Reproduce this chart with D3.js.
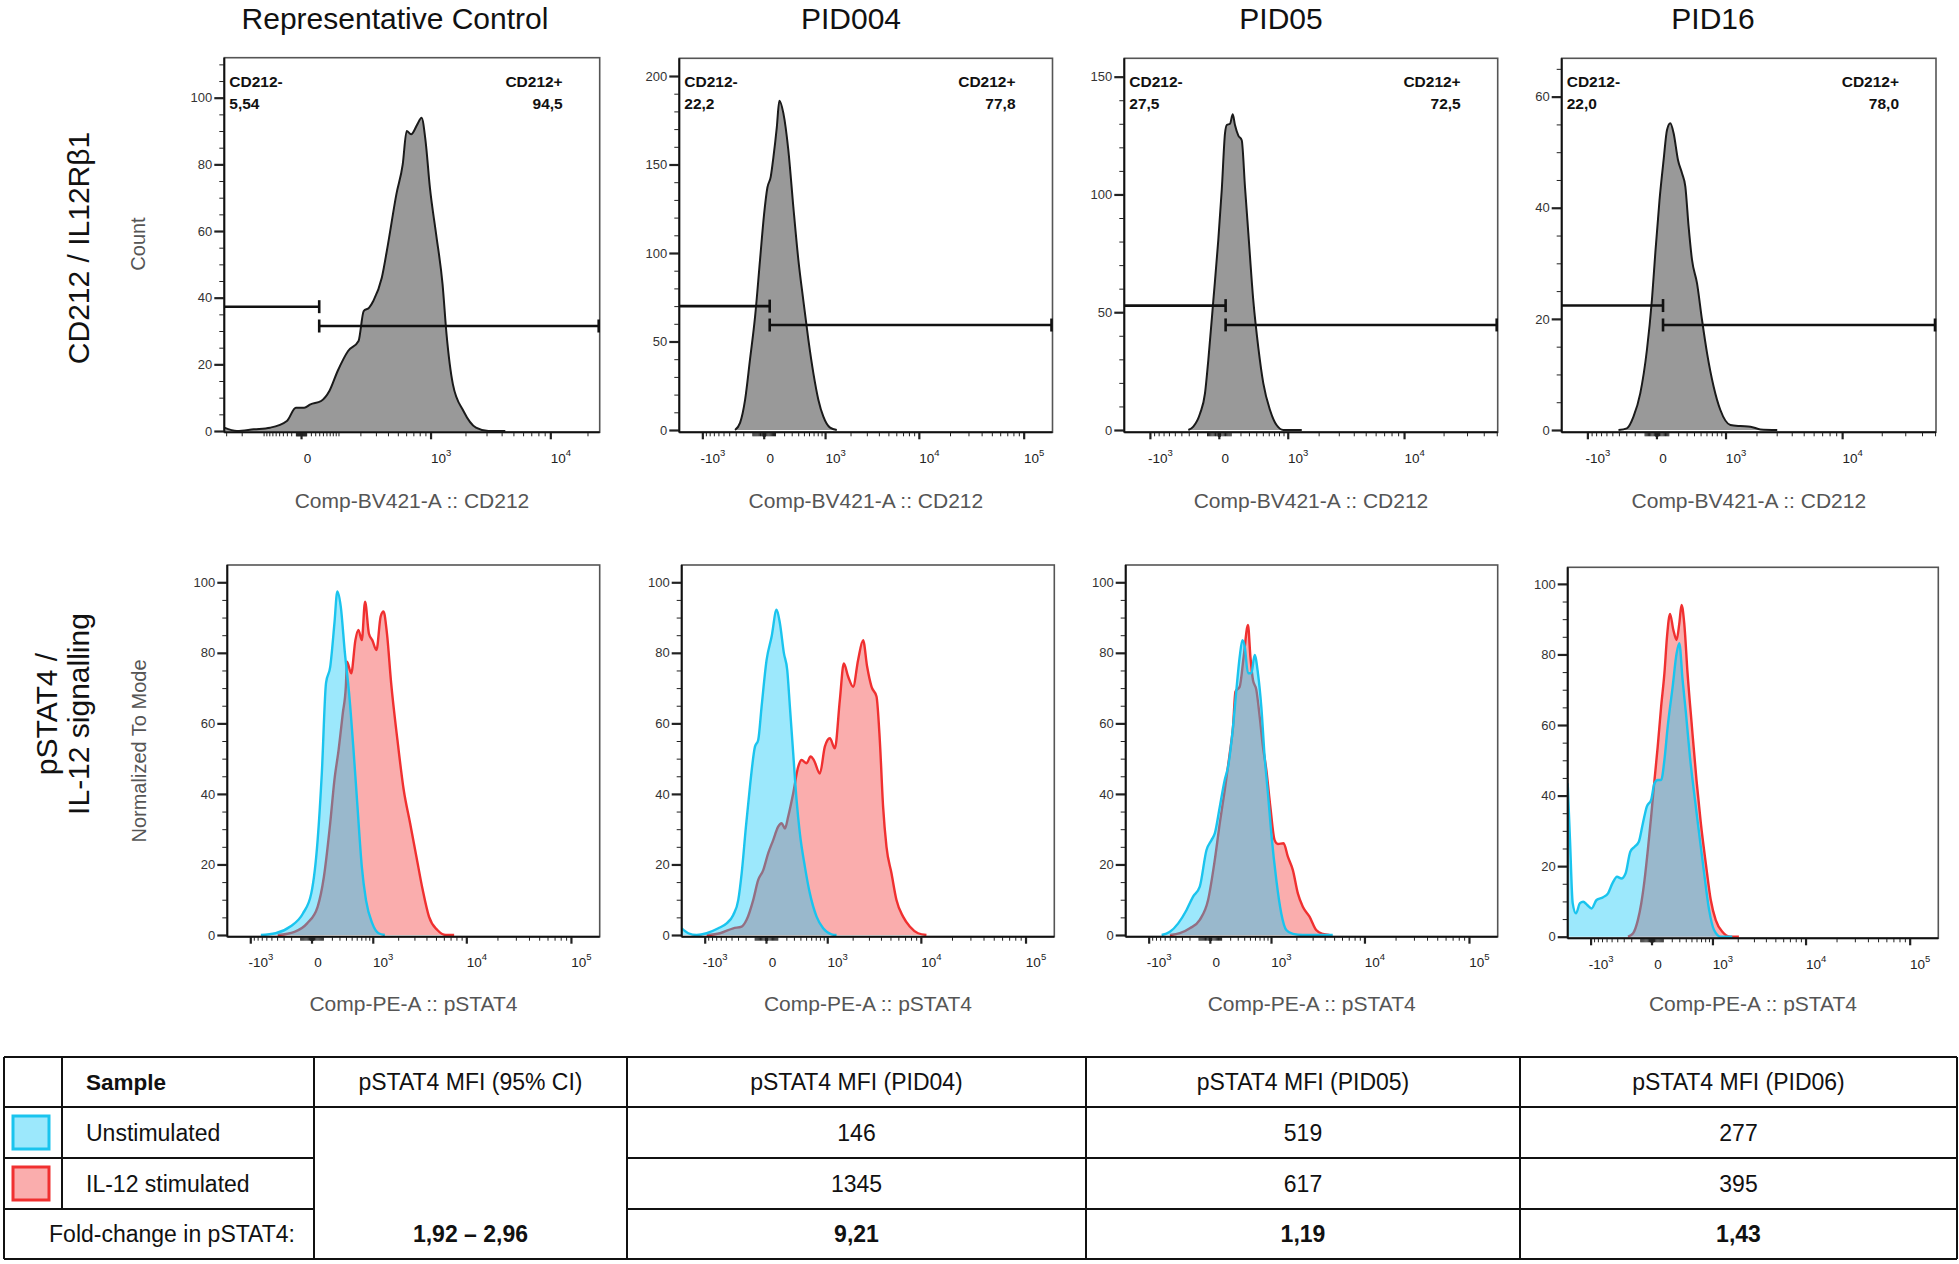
<!DOCTYPE html>
<html>
<head>
<meta charset="utf-8">
<script src="https://cdn.jsdelivr.net/npm/d3@7"></script>
<style>
html,body{margin:0;padding:0;background:#fff;}
svg{display:block;}
</style>
</head>
<body>
<svg id="fig" width="1959" height="1264"></svg>
<script>
// ================= DATA =================
const panelTitles = ["Representative Control", "PID004", "PID05", "PID16"];
const rowLabelTop = "CD212 / IL12R\u03b21";
const rowLabelBottom = ["pSTAT4 /", "IL-12 signalling"];
const topAxisTitle = "Comp-BV421-A :: CD212";
const bottomAxisTitle = "Comp-PE-A :: pSTAT4";
const topYTitle = "Count";
const bottomYTitle = "Normalized To Mode";

const gateNegLabel = "CD212-";
const gatePosLabel = "CD212+";
const gateNegPct = ["5,54", "22,2", "27,5", "22,0"];
const gatePosPct = ["94,5", "77,8", "72,5", "78,0"];
const gateThreshold = [40, 50, 55, 53];
const gateNegLevel = [37.3, 70, 52.8, 22.4];
const gatePosLevel = [31.5, 59.3, 44.6, 18.9];

const countTicks = [[0,20,40,60,80,100],[0,50,100,150,200],[0,50,100,150],[0,20,40,60]];
const countMinorStep = [5,10,10,5];
const modeTicks = [0,20,40,60,80,100];
const modeMinorStep = 5;
const logicleMajorTicks = [-1000, 0, 1000, 10000, 100000];

// --- CD212 histograms (Count) ---
const ctrlCD212_x = [-314,-228,-140,-77,-30,-10,6,19,45,69,97,139,190,219,253,281,346,400,484,557,607,667,761,831,903,987,1120,1274,1379,1564,1922,2450,3110,4290];
const ctrlCD212_count = [1,0,0.5,1,3,7,7,8,9,12,18,24,27,36,37,39,46,56,71,80,90,89,92,94,87,73,59,44,29,14,6,1,0,0];

const pid004CD212_x = [-310,-241,-179,-124,-74,-30,3,30,59,84,118,145,191,254,324,403,490,587,696,817,951,1156,1393];
const pid004CD212_count = [0,4,17,40,64,96,122,137,143,154,171,186,179,158,126,96,73,51,32,17,7.5,1.3,0];

const pid05CD212_x = [-305,-244,-169,-119,-88,-44,-4,23,50,65,94,120,142,177,214,252,293,358,430,508,623,753,895,1390];
const pid05CD212_count = [0,1.4,7,15.6,29.7,55,80.7,102,126,129.5,130,134,129.5,125,123,103,83.5,55,35,19.8,8.5,2,0,0];

const pid16CD212_x = [-406,-293,-214,-142,-79,-36,-9,24,58,88,119,152,198,244,284,326,372,445,524,611,736,879,1125,1417,1762,2171,3031];
const pid16CD212_count = [0,0.3,2.4,6.6,14.4,23.4,31.8,41.4,48.6,54,55.2,53.4,48.6,46.2,43.8,36.6,30.6,26.4,19.8,13.8,7.8,3.6,0.9,0.7,0.6,0.1,0];

// --- pSTAT4 histograms (Normalized To Mode) ---
const ctrlUnstim_x = [-721,-425,-211,-74,-2,51,90,133,180,232,270,319,383,454,531,616,712,814,986,1182,1408];
const ctrlUnstim_y = [0,0.5,2.4,6.1,11.8,26.9,45.8,71.4,76,88.4,97.4,93.1,79.9,68.5,53.4,36.4,19.4,9.9,3.3,0.5,0];
const ctrlIL12_x = [-390,-161,-36,51,111,180,232,288,350,398,418,492,573,636,712,791,890,986,1114,1254,1359,1490,1667,1963,2303,2699,3147,3660,4247,5167,6270,7594];
const ctrlIL12_y = [0,0.9,3.3,8,16.5,31.7,44,52.5,62.9,70.4,77.5,74.2,83.6,86.5,83.6,94.5,85.5,83.6,80.8,90.3,91.7,85.5,71.4,55.3,41.1,31.7,22.2,12.8,5.2,1.4,0,0];

const pid004Unstim_x = [-1880,-1581,-1258,-943,-653,-485,-372,-297,-250,-196,-150,-97,-66,-36,5,47,93,127,171,211,245,290,339,391,477,573,719,885,1133,1304];
const pid004Unstim_y = [1.9,0.5,0,0.5,1.9,3.3,5.7,9.9,17.5,30.7,42,53.4,55.3,64.7,78,84.6,92.2,88.4,79.9,75.1,64.7,51.5,38.3,28.8,19.4,11.8,5.2,1.9,0.2,0];
const pid004IL12_x = [-943,-616,-372,-250,-188,-115,-66,-22,18,61,109,145,183,223,290,364,419,509,587,657,799,931,1079,1244,1427,1589,1779,2024,2297,2601,2870,3192,3599,3892,4208,4557,5120,5746,6685,7787,9392,11336];
const pid004IL12_y = [0,0.5,1.9,2.4,4.3,9.9,15.6,18.4,23.2,26.9,30.7,31.7,30.2,33.6,40.2,47.7,49.6,48.7,50.6,49.6,45.8,53.4,55.8,52.9,66.6,77,73.3,70.4,78,83.6,76.1,70.4,67.6,55.3,36.4,25,17.5,9.9,5.2,2.4,0.5,0];

const pid05Unstim_x = [-666,-497,-356,-237,-158,-88,-27,13,41,87,138,175,236,281,329,370,408,465,528,593,664,742,824,912,1009,1166,1340,1535,1827,2355,4843];
const pid05Unstim_y = [0,0.9,3.3,7.1,10.9,13.7,24.1,26.9,28.8,36.4,44,47.7,59.1,69.5,78.9,83.6,81.8,74.2,74.2,79.4,74.2,64.7,50.6,40.2,28.8,15.6,6.1,1.4,0.3,0,0];
const pid05IL12_x = [-497,-330,-196,-88,-14,41,87,138,195,236,268,329,391,465,509,559,629,703,781,869,980,1111,1220,1427,1602,1827,2077,2355,2780,3270,3828,4483];
const pid05IL12_y = [0,0.5,1.9,4.3,9.9,21.3,31.7,41.1,51.5,59.1,69,70.4,78.9,87.9,78.9,72.3,69.5,61.9,53.4,46.8,36.4,26.9,25.8,26,22.2,18.4,11.8,8,5.2,1.4,0.3,0];

const pid16Unstim_x = [-1880,-1770,-1649,-1511,-1355,-1237,-1104,-971,-835,-675,-569,-485,-404,-335,-273,-212,-161,-115,-75,-39,-3,24,52,84,117,152,211,262,300,349,403,472,553,657,774,904,1048,1268,1734];
const pid16Unstim_y = [43.5,27.4,9.5,6.6,9.5,9.9,9,8,10.4,11.2,12.3,15.1,17,16.5,18,24.1,25.5,26.9,32.1,36.9,38.8,43.5,44.4,44.4,50.1,59.5,70.9,80.3,83.2,72.8,63.3,51,40.6,29.3,18,7.6,1.9,0,0];
const pid16IL12_x = [-242,-180,-125,-90,-59,-30,-3,24,52,84,117,145,179,219,262,300,333,375,430,509,600,696,816,951,1101,1326,1662,2061];
const pid16IL12_y = [0,0.9,4.7,9.5,16.1,24.6,34,44.4,53.9,65.2,74.7,85.1,91.5,87,84.1,88.8,94,88.8,74.7,59.5,44.4,32.1,20.8,10.4,4.7,1.4,0,0];

// --- table ---
const tableHeader = ["Sample", "pSTAT4 MFI (95% CI)", "pSTAT4 MFI (PID04)", "pSTAT4 MFI (PID05)", "pSTAT4 MFI (PID06)"];
const sampleNames = ["Unstimulated", "IL-12 stimulated"];
const mfiUnstimulated = ["", "146", "519", "277"];
const mfiStimulated = ["", "1345", "617", "395"];
const foldChangeLabel = "Fold-change in pSTAT4:";
const foldChange = ["1,92 \u2013 2,96", "9,21", "1,19", "1,43"];

// ================= LAYOUT / STYLE =================
const FONT = '"Liberation Sans", Arial, Helvetica, sans-serif';
const BLUE = "rgb(18,201,249)", BLUE_LINE = "rgb(26,196,238)";
const RED = "rgb(244,59,59)", RED_LINE = "rgb(240,48,48)";
const FILL_OP = 0.42;

const zip = (a, b) => a.map((v, i) => [v, b[i]]);

const topSeries = [
  zip(ctrlCD212_x, ctrlCD212_count),
  zip(pid004CD212_x, pid004CD212_count),
  zip(pid05CD212_x, pid05CD212_count),
  zip(pid16CD212_x, pid16CD212_count)
];
const bottomSeries = [
  [zip(ctrlIL12_x, ctrlIL12_y), zip(ctrlUnstim_x, ctrlUnstim_y)],
  [zip(pid004IL12_x, pid004IL12_y), zip(pid004Unstim_x, pid004Unstim_y)],
  [zip(pid05IL12_x, pid05IL12_y), zip(pid05Unstim_x, pid05Unstim_y)],
  [zip(pid16IL12_x, pid16IL12_y), zip(pid16Unstim_x, pid16Unstim_y)]
];

const topFrames = [
  {x0:224.3, x1:599.7, yt:57.7, yb:432.3, y0:431, xDomain:[-314,25100], c:100, yMax:112},
  {x0:679.3, x1:1052.5, yt:58.3, yb:432.3, y0:430, xDomain:[-1880,187000], c:360, yMax:210},
  {x0:1124.3, x1:1497.7, yt:58.3, yb:432.3, y0:430, xDomain:[-1790,50800], c:450, yMax:157.8},
  {x0:1561.7, x1:1936, yt:58.3, yb:432.3, y0:430, xDomain:[-1790,50800], c:450, yMax:66.9}
];
const bottomFrames = [
  {x0:227.3, x1:599.7, yt:565, yb:936.7, y0:935, xDomain:[-1880,187000], c:360, yMax:104.9},
  {x0:681.7, x1:1054.3, yt:565, yb:936.7, y0:935, xDomain:[-1880,187000], c:360, yMax:104.9},
  {x0:1125.7, x1:1497.7, yt:565, yb:936.7, y0:935, xDomain:[-1880,187000], c:360, yMax:104.9},
  {x0:1567.7, x1:1938.3, yt:567.3, yb:938.3, y0:936.7, xDomain:[-1880,187000], c:360, yMax:104.7}
];
const titleX = [395, 851, 1281, 1713];

const svg = d3.select("#fig").attr("font-family", FONT);
svg.append("rect").attr("width", 1959).attr("height", 1264).attr("fill", "#fff");
const defs = svg.append("defs");

function logicleMinors(dom) {
  const out = [];
  for (let e = 0; e <= 5; e++) for (let m = 1; m <= 9; m++) {
    const v = m * Math.pow(10, e);
    [v, -v].forEach(u => {
      if (u >= dom[0] && u <= dom[1] && !logicleMajorTicks.includes(u)) out.push(u);
    });
  }
  return out;
}

function drawPanel(p, idx, yTicks, yMinorStep) {
  const x = d3.scaleSymlog().constant(p.c).domain(p.xDomain).range([p.x0, p.x1]);
  const y = d3.scaleLinear().domain([0, p.yMax]).range([p.y0, p.yt]);
  const g = svg.append("g");
  const cid = "clip" + idx;
  defs.append("clipPath").attr("id", cid).append("rect")
    .attr("x", p.x0).attr("y", p.yt).attr("width", p.x1 - p.x0).attr("height", p.yb - p.yt);
  const plot = g.append("g").attr("clip-path", `url(#${cid})`);

  // y axis minor + major
  const minorY = d3.range(0, p.yMax, yMinorStep).filter(v => !yTicks.includes(v));
  g.append("g").attr("transform", `translate(${p.x0},0)`)
    .call(d3.axisLeft(y).tickValues(minorY).tickSize(5).tickFormat(""))
    .call(a => a.select(".domain").remove())
    .attr("color", "#222");
  g.append("g").attr("transform", `translate(${p.x0},0)`)
    .call(d3.axisLeft(y).tickValues(yTicks).tickSize(10).tickPadding(2))
    .call(a => a.select(".domain").remove())
    .call(a => a.selectAll("line").attr("stroke-width", 2.2))
    .attr("color", "#222")
    .attr("font-family", FONT).attr("font-size", 13)
    .call(a => a.selectAll("text").attr("fill", "#333"));

  // x axis minor + major
  const majors = logicleMajorTicks.filter(v => v >= p.xDomain[0] && v <= p.xDomain[1]);
  g.append("g").attr("transform", `translate(0,${p.yb})`)
    .call(d3.axisBottom(x).tickValues(logicleMinors(p.xDomain)).tickSize(4).tickFormat(""))
    .call(a => a.select(".domain").remove())
    .attr("color", "#222");
  g.append("g").attr("transform", `translate(0,${p.yb})`)
    .call(d3.axisBottom(x).tickValues(majors).tickSize(7))
    .call(a => a.select(".domain").remove())
    .call(a => a.selectAll("line").attr("stroke-width", 2.2))
    .attr("color", "#222")
    .attr("font-family", FONT)
    .call(a => a.selectAll(".tick text").each(function(d) {
      const t = d3.select(this);
      t.text(null).attr("y", 21).attr("x", d === 0 ? 6 : 10).attr("dy", "0.71em")
        .attr("font-size", 13.5).attr("fill", "#222");
      if (d === 0) { t.append("tspan").text("0"); return; }
      const e = Math.round(Math.log10(Math.abs(d)));
      t.append("tspan").text(d < 0 ? "-10" : "10");
      t.append("tspan").attr("dy", -7).attr("font-size", 9.5).text(e);
    }));

  return {x, y, g, plot};
}

function drawFrame(g, p) {
  g.append("rect").attr("x", p.x0).attr("y", p.yt).attr("width", p.x1 - p.x0).attr("height", p.yb - p.yt)
    .attr("fill", "none").attr("stroke", "#555").attr("stroke-width", 1.6);
  g.append("line").attr("x1", p.x0).attr("x2", p.x0).attr("y1", p.yt).attr("y2", p.yb)
    .attr("stroke", "#111").attr("stroke-width", 2);
  g.append("line").attr("x1", p.x0).attr("x2", p.x1).attr("y1", p.yb).attr("y2", p.yb)
    .attr("stroke", "#111").attr("stroke-width", 2);
}

// ----- top row -----
topFrames.forEach((p, i) => {
  const {x, y, g, plot} = drawPanel(p, "t" + i, countTicks[i], countMinorStep[i]);
  const area = d3.area().x(d => x(d[0])).y0(y(0)).y1(d => y(d[1])).curve(d3.curveMonotoneX);
  const line = d3.line().x(d => x(d[0])).y(d => y(d[1])).curve(d3.curveMonotoneX);
  plot.append("path").attr("d", area(topSeries[i])).attr("fill", "#999");
  plot.append("path").attr("d", line(topSeries[i])).attr("fill", "none")
    .attr("stroke", "#1a1a1a").attr("stroke-width", 2).attr("stroke-linejoin", "round");
  drawFrame(g, p);

  // gates
  const xt = x(gateThreshold[i]);
  const yn = y(gateNegLevel[i]), yp = y(gatePosLevel[i]);
  const gg = g.append("g").attr("stroke", "#111").attr("stroke-width", 2.6).attr("fill", "none");
  gg.append("line").attr("x1", x(p.xDomain[0])).attr("x2", xt).attr("y1", yn).attr("y2", yn);
  gg.append("line").attr("x1", xt).attr("x2", xt).attr("y1", yn - 6.5).attr("y2", yn + 6.5);
  gg.append("line").attr("x1", xt).attr("x2", x(p.xDomain[1]) - 1).attr("y1", yp).attr("y2", yp);
  gg.append("line").attr("x1", xt).attr("x2", xt).attr("y1", yp - 6.5).attr("y2", yp + 6.5);
  gg.append("line").attr("x1", x(p.xDomain[1]) - 1).attr("x2", x(p.xDomain[1]) - 1).attr("y1", yp - 6.5).attr("y2", yp + 6.5);

  const lab = g.append("g").attr("font-size", 15.5).attr("font-weight", "bold").attr("fill", "#111");
  lab.append("text").attr("x", p.x0 + 5).attr("y", p.yt + 29).text(gateNegLabel);
  lab.append("text").attr("x", p.x0 + 5).attr("y", p.yt + 51).text(gateNegPct[i]);
  lab.append("text").attr("x", p.x1 - 37).attr("y", p.yt + 29).attr("text-anchor", "end").text(gatePosLabel);
  lab.append("text").attr("x", p.x1 - 37).attr("y", p.yt + 51).attr("text-anchor", "end").text(gatePosPct[i]);

  // axis title
  g.append("text").attr("x", (p.x0 + p.x1) / 2).attr("y", 508).attr("text-anchor", "middle")
    .attr("font-size", 21).attr("fill", "#555").text(topAxisTitle);
  // panel title
  svg.append("text").attr("x", titleX[i]).attr("y", 29).attr("text-anchor", "middle")
    .attr("font-size", 30).attr("fill", "#111").text(panelTitles[i]);
});

// ----- bottom row -----
bottomFrames.forEach((p, i) => {
  const {x, y, g, plot} = drawPanel(p, "b" + i, modeTicks, modeMinorStep);
  const area = d3.area().x(d => x(d[0])).y0(y(0)).y1(d => y(d[1])).curve(d3.curveMonotoneX);
  const line = d3.line().x(d => x(d[0])).y(d => y(d[1])).curve(d3.curveMonotoneX);
  const [red, blue] = bottomSeries[i];
  plot.append("path").attr("d", area(red)).attr("fill", RED).attr("fill-opacity", FILL_OP);
  plot.append("path").attr("d", line(red)).attr("fill", "none").attr("stroke", RED_LINE).attr("stroke-width", 2.4);
  plot.append("path").attr("d", area(blue)).attr("fill", BLUE).attr("fill-opacity", FILL_OP);
  plot.append("path").attr("d", line(blue)).attr("fill", "none").attr("stroke", BLUE_LINE).attr("stroke-width", 2.4);
  drawFrame(g, p);
  g.append("text").attr("x", (p.x0 + p.x1) / 2).attr("y", 1011).attr("text-anchor", "middle")
    .attr("font-size", 21).attr("fill", "#555").text(bottomAxisTitle);
});

// ----- row labels / y titles -----
svg.append("text").attr("transform", "translate(89,248) rotate(-90)").attr("text-anchor", "middle")
  .attr("font-size", 30).attr("fill", "#111").text(rowLabelTop);
svg.append("text").attr("transform", "translate(57,714) rotate(-90)").attr("text-anchor", "middle")
  .attr("font-size", 30).attr("fill", "#111").text(rowLabelBottom[0]);
svg.append("text").attr("transform", "translate(89,714) rotate(-90)").attr("text-anchor", "middle")
  .attr("font-size", 30).attr("fill", "#111").text(rowLabelBottom[1]);
svg.append("text").attr("transform", "translate(145,244) rotate(-90)").attr("text-anchor", "middle")
  .attr("font-size", 20).attr("fill", "#555").text(topYTitle);
svg.append("text").attr("transform", "translate(146,751) rotate(-90)").attr("text-anchor", "middle")
  .attr("font-size", 20).attr("fill", "#555").text(bottomYTitle);

// ----- table -----
const TX = [4, 62, 314, 627, 1086, 1520, 1957];
const TY = [1057, 1107, 1158, 1209, 1259];
const tg = svg.append("g");
const tl = tg.append("g").attr("stroke", "#111").attr("stroke-width", 2);
const hl = (x1, x2, yy) => tl.append("line").attr("x1", x1).attr("x2", x2).attr("y1", yy).attr("y2", yy);
const vl = (xx, y1, y2) => tl.append("line").attr("x1", xx).attr("x2", xx).attr("y1", y1).attr("y2", y2);
hl(TX[0], TX[6], TY[0]); hl(TX[0], TX[6], TY[1]);
hl(TX[0], TX[2], TY[2]); hl(TX[3], TX[6], TY[2]);
hl(TX[0], TX[2], TY[3]); hl(TX[3], TX[6], TY[3]);
hl(TX[0], TX[6], TY[4]);
vl(TX[0], TY[0], TY[4]); vl(TX[1], TY[0], TY[3]);
[2, 3, 4, 5, 6].forEach(k => vl(TX[k], TY[0], TY[4]));

const tt = tg.append("g").attr("font-size", 23).attr("fill", "#111");
const rowMid = r => (TY[r] + TY[r + 1]) / 2;
const colMid = c => (TX[c] + TX[c + 1]) / 2;
tt.append("text").attr("x", 86).attr("y", rowMid(0)).attr("dy", "0.35em").attr("font-weight", "bold").attr("font-size", 22.5).text(tableHeader[0]);
for (let c = 1; c < tableHeader.length; c++) {
  tt.append("text").attr("x", colMid(c + 1)).attr("y", rowMid(0)).attr("dy", "0.35em")
    .attr("text-anchor", "middle").text(tableHeader[c]);
}
// swatches
[[BLUE, BLUE_LINE], [RED, RED_LINE]].forEach((col, r) => {
  tg.append("rect").attr("x", 13).attr("y", TY[r + 1] + 9).attr("width", 36).attr("height", 33)
    .attr("fill", col[0]).attr("fill-opacity", FILL_OP).attr("stroke", col[1]).attr("stroke-width", 3);
  tt.append("text").attr("x", 86).attr("y", rowMid(r + 1)).attr("dy", "0.35em").text(sampleNames[r]);
});
[mfiUnstimulated, mfiStimulated].forEach((vals, r) => {
  vals.forEach((v, c) => {
    if (!v) return;
    tt.append("text").attr("x", colMid(c + 2)).attr("y", rowMid(r + 1)).attr("dy", "0.35em")
      .attr("text-anchor", "middle").text(v);
  });
});
tt.append("text").attr("x", 172).attr("y", rowMid(3)).attr("dy", "0.35em").attr("text-anchor", "middle").text(foldChangeLabel);
foldChange.forEach((v, c) => {
  tt.append("text").attr("x", colMid(c + 2)).attr("y", rowMid(3)).attr("dy", "0.35em")
    .attr("text-anchor", "middle").attr("font-weight", "bold").text(v);
});
</script>
</body>
</html>
